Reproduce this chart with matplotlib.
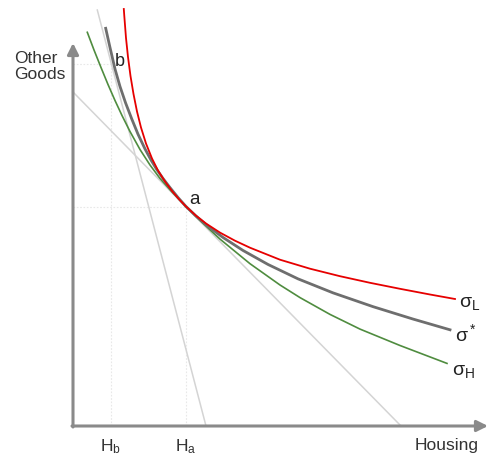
import matplotlib
matplotlib.use("Agg")
import matplotlib.pyplot as plt

plt.rcParams["font.family"] = ["Liberation Sans", "DejaVu Sans"]

# indifference curves (housing, other goods)
red_x = [5.08, 5.13, 5.3, 5.5, 5.75, 6.05, 6.4, 6.8, 7.3, 7.9, 8.5, 9.2, 9.9, 10.6, 11.3,
         12.3, 13.3, 14.7, 16.2, 17.7, 20.7, 23.7, 26.7, 29.7, 32.7, 35.7, 38.2]
red_y = [41.7, 41.0, 38.8, 36.9, 35.0, 33.2, 31.45, 29.85, 28.25, 26.75, 25.55, 24.45,
         23.5, 22.68, 21.95,
         21.03, 20.25, 19.34, 18.53, 17.83, 16.63, 15.73, 14.98, 14.32, 13.72, 13.15, 12.7]

gray_x = [3.27, 3.7, 4.2, 4.7, 5.25, 5.87, 6.5, 7.2, 7.8, 8.37, 9.0, 9.7, 10.5, 11.3,
          12.3, 13.5, 15.0, 17.0, 19.5, 22.5, 26.0, 30.0, 34.0, 37.7]
gray_y = [39.77, 37.85, 35.7, 33.95, 32.33, 30.72, 29.18, 27.71, 26.6, 25.66, 24.75,
          23.84, 22.85, 21.95,
          21.0, 19.98, 18.855, 17.555, 16.155, 14.715, 13.315, 11.935, 10.695, 9.62]

green_x = [1.43, 2.1, 2.8, 3.5, 4.2, 4.9, 5.7, 6.7, 7.7, 8.7, 9.9, 11.3,
           12.7, 14.7, 17.7, 20.7, 22.7, 25.7, 28.7, 32.7, 37.4]
green_y = [39.37, 37.6, 35.85, 34.15, 32.55, 31.05, 29.45, 27.65, 26.1, 24.75, 23.4, 21.95,
           20.55, 18.69, 16.23, 14.1, 12.84, 11.16, 9.69, 8.05, 6.26]

# budget lines
budget_a_x = [0.0, 32.8]
budget_a_y = [33.4, 0.0]
budget_b_x = [2.43, 13.3]
budget_b_y = [41.6, 0.0]

point_a = (11.3, 21.95)
point_b = (3.77, 36.2)

fig = plt.figure(figsize=(4.89, 4.60), dpi=100)
ax = fig.add_axes([0, 0, 1, 1])
ax.set_xlim(-7.3, 41.6)
ax.set_ylim(-3.3, 42.7)
ax.axis("off")

# faint guides
for px, py in [point_a, point_b]:
    ax.plot([0, px], [py, py], color="#e8e8e8", lw=0.8, ls=(0, (1.5, 1.5)))
    ax.plot([px, px], [0, py], color="#e8e8e8", lw=0.8, ls=(0, (1.5, 1.5)))

ax.plot(budget_a_x, budget_a_y, color="#d4d4d4", lw=1.1)
ax.plot(budget_b_x, budget_b_y, color="#d4d4d4", lw=1.1)

ax.plot(green_x, green_y, color="#4f8c3f", lw=1.2, solid_joinstyle="round")
ax.plot(gray_x, gray_y, color="#6e6e6e", lw=2.0, solid_joinstyle="round")
ax.plot(red_x, red_y, color="#e60000", lw=1.3, solid_joinstyle="round")

# axes arrows
arrow = dict(arrowstyle="-|>,head_length=0.6,head_width=0.3", color="#8a8a8a",
             lw=2.2, mutation_scale=11, shrinkA=0, shrinkB=0)
ax.annotate("", xy=(0, 38.3), xytext=(0, -0.1), arrowprops=arrow)
ax.annotate("", xy=(41.5, 0), xytext=(-0.1, 0), arrowprops=arrow)

ax.text(-5.9, 37.6, "Other\nGoods", ha="left", va="top", fontsize=12.5,
        color="#333333", linespacing=1.05)
ax.text(37.35, -1.9, "Housing", ha="center", va="center", fontsize=12.5, color="#333333")
ax.text(3.77, -2.45, r"$\mathregular{H_b}$", ha="center", va="baseline",
        fontsize=12.5, color="#333333")
ax.text(11.3, -2.45, r"$\mathregular{H_a}$", ha="center", va="baseline",
        fontsize=12.5, color="#333333")
ax.text(12.1, 22.7, "a", ha="center", va="center", fontsize=13.5, color="#222222")
ax.text(4.7, 36.5, "b", ha="center", va="center", fontsize=13, color="#222222")

ax.text(38.6, 12.05, r"$\mathregular{σ_L}$", ha="left", va="baseline",
        fontsize=14, color="#222222")
ax.text(38.2, 8.55, r"$\mathregular{σ^*}$", ha="left", va="baseline",
        fontsize=14, color="#222222")
ax.text(37.9, 5.2, r"$\mathregular{σ_H}$", ha="left", va="baseline",
        fontsize=14, color="#222222")

fig.savefig("out.png", dpi=100)
